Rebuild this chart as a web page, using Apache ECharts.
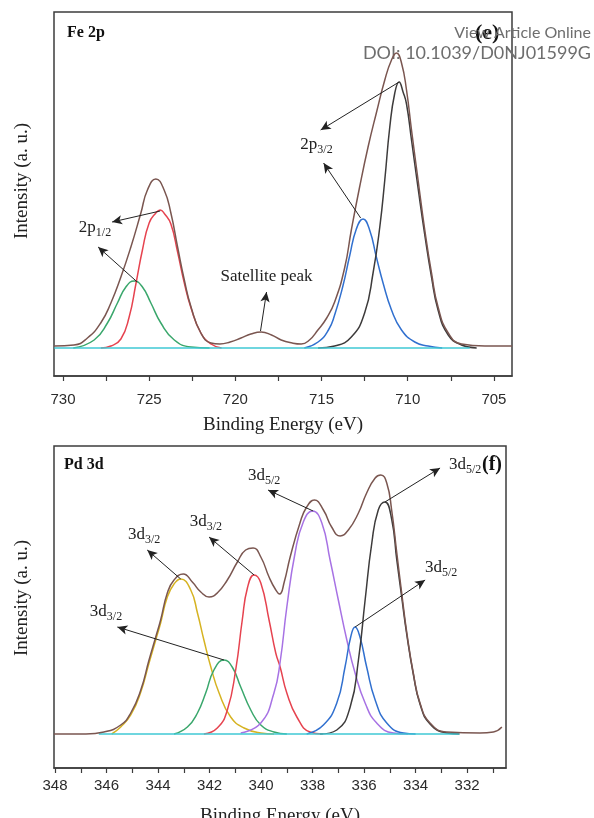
<!DOCTYPE html>
<html>
<head>
<meta charset="utf-8">
<script src="https://cdn.jsdelivr.net/npm/echarts@6/dist/echarts.min.js"></script>
<style>
  html, body { margin: 0; padding: 0; background: #fff; }
  #chart { width: 594px; height: 818px; }
</style>
</head>
<body>
<div id="chart"></div>
<script>
// Fe 2p panel: [binding energy (eV), intensity (a.u.)]
const feEnvelope = [[730.5, 2], [729.36, 3], [728.58, 10], [727.81, 25], [727.22, 45], [726.64, 71], [726.06, 101], [725.48, 135], [725.1, 158], [724.61, 169], [724.13, 158], [723.74, 135], [723.35, 101], [722.96, 68], [722.57, 41], [722.0, 15], [721.41, 5], [720.9, 4], [720.3, 6], [719.67, 10], [719.1, 14], [718.5, 16], [717.9, 13], [717.34, 8], [716.7, 5], [716.18, 4], [715.7, 8], [715.21, 18], [714.7, 30], [714.24, 46], [713.66, 80], [713.27, 118], [712.79, 161], [712.3, 201], [711.82, 235], [711.33, 268], [710.94, 288], [710.65, 295], [710.36, 285], [710.07, 258], [709.78, 218], [709.4, 168], [709.01, 118], [708.62, 75], [708.24, 41], [707.65, 15], [706.88, 4], [705.52, 2], [703.95, 2]]
const feGreen = [[729.4, 0], [728.19, 8], [727.42, 25], [726.84, 45], [726.35, 61], [725.87, 67], [725.39, 61], [724.9, 45], [724.32, 25], [723.54, 8], [722.57, 1], [721.5, 0]]
const feRed = [[727.8, 0], [727.22, 2], [726.64, 9], [726.16, 31], [725.77, 64], [725.39, 98], [725.0, 125], [724.61, 135], [724.36, 138], [724.1, 134], [723.74, 124], [723.35, 96], [722.96, 65], [722.57, 40], [722.0, 15], [721.41, 4], [720.8, 0]]
const feBlue = [[716.0, 0], [715.2, 6], [714.6, 18], [714.24, 33], [713.76, 62], [713.37, 92], [712.98, 119], [712.59, 129], [712.21, 118], [711.82, 91], [711.43, 65], [710.94, 38], [710.36, 18], [709.59, 6], [708.82, 2], [708.0, 0]]
const feBlack = [[715.2, 0], [714.24, 2], [713.27, 11], [712.5, 35], [712.01, 75], [711.62, 121], [711.33, 168], [711.04, 221], [710.75, 255], [710.5, 266], [710.27, 256], [710.07, 244], [709.78, 208], [709.4, 160], [709.01, 113], [708.62, 71], [708.24, 38], [707.65, 13], [706.88, 3], [706.0, 0]]
const feBaseline = [[730.5, 0], [706.4, 0]]
const feTicks = [705, 707.5, 710, 712.5, 715, 717.5, 720, 722.5, 725, 727.5, 730]
const feTickLabels = [705, 710, 715, 720, 725, 730]

// Pd 3d panel
const pdEnvelope = [[348.04, 0], [346.8, 0], [346.1, 2], [345.45, 9], [345.06, 21], [344.67, 44], [344.35, 74], [344.09, 97], [343.9, 114], [343.64, 141], [343.38, 154], [343.02, 160], [342.67, 152], [342.34, 142], [342.02, 137], [341.7, 141], [341.31, 154], [340.92, 172], [340.6, 184], [340.31, 186], [340.01, 177], [339.69, 157], [339.45, 145], [339.28, 140], [339.1, 152], [338.87, 177], [338.49, 211], [338.23, 227], [337.93, 234], [337.58, 224], [337.26, 207], [336.93, 198], [336.61, 204], [336.22, 221], [335.9, 241], [335.57, 256], [335.35, 259], [335.12, 251], [334.93, 224], [334.73, 181], [334.54, 141], [334.34, 101], [334.09, 61], [333.83, 31], [333.44, 11], [332.79, 2], [331.5, 1], [330.98, 2], [330.65, 7]]
const pdYellow = [[345.8, 0], [345.45, 7], [345.06, 19], [344.67, 42], [344.35, 71], [344.09, 94], [343.9, 111], [343.64, 137], [343.38, 150], [343.12, 155], [342.73, 144], [342.47, 121], [342.22, 94], [341.95, 67], [341.63, 41], [341.18, 17], [340.66, 6], [340.01, 1], [339.5, 0]]
const pdGreen = [[343.38, 0], [342.86, 7], [342.47, 21], [342.15, 41], [341.83, 64], [341.44, 74], [341.12, 67], [340.79, 47], [340.4, 24], [340.01, 9], [339.5, 2], [339.0, 0]]
const pdRed = [[342.22, 0], [341.7, 6], [341.31, 24], [340.98, 65], [340.73, 114], [340.53, 146], [340.27, 159], [340.01, 151], [339.69, 114], [339.43, 81], [339.26, 67], [339.0, 41], [338.61, 17], [338.1, 2], [337.6, 0]]
const pdPurple = [[340.79, 1], [340.01, 11], [339.5, 41], [339.26, 72], [339.0, 127], [338.68, 181], [338.36, 212], [338.0, 223], [337.64, 211], [337.32, 174], [337.0, 134], [336.67, 94], [336.35, 61], [335.96, 31], [335.51, 11], [334.86, 1], [334.3, 0]]
const pdBlue = [[338.23, 0], [337.58, 9], [337.06, 31], [336.74, 67], [336.52, 97], [336.35, 107], [336.16, 97], [335.9, 67], [335.57, 34], [335.12, 11], [334.47, 1], [334.0, 0]]
const pdDark = [[337.71, 0], [337.06, 4], [336.54, 27], [336.22, 74], [335.96, 134], [335.7, 191], [335.45, 224], [335.19, 232], [334.93, 215], [334.73, 174], [334.54, 137], [334.34, 99], [334.09, 60], [333.83, 30], [333.44, 10], [332.79, 1], [332.3, 0]]
const pdBaseline = [[346.3, 0], [332.3, 0]]
const pdTicks = [331, 332, 333, 334, 335, 336, 337, 338, 339, 340, 341, 342, 343, 344, 345, 346, 347, 348]
const pdTickLabels = [332, 334, 336, 338, 340, 342, 344, 346, 348]

// annotations: arrows [from, to] and labels [energy, intensity]
const feArrows = [
  [[710.5, 266], [715.05, 218]],
  [[712.73, 130], [714.88, 185]],
  [[724.36, 137], [727.15, 126]],
  [[725.69, 66], [727.96, 101]],
  [[718.54, 17], [718.19, 56]]
]
const feLabels = [
  ['{m|2p}{s|3/2}', [715.29, 203]],
  ['{m|2p}{s|1/2}', [728.14, 120]],
  ['{m|Satellite peak}', [718.19, 71]]
]
const pdArrows = [
  [[337.98, 223], [339.73, 244]],
  [[340.27, 159], [342.02, 197]],
  [[343.12, 155], [344.42, 184]],
  [[341.44, 74], [345.58, 107]],
  [[335.19, 232], [333.05, 266]],
  [[336.35, 107], [333.63, 154]]
]
const pdLabels = [
  ['{m|3d}{s|5/2}', [339.88, 258]],
  ['{m|3d}{s|3/2}', [342.14, 212]],
  ['{m|3d}{s|3/2}', [344.54, 199]],
  ['{m|3d}{s|3/2}', [346.02, 122]],
  ['{m|3d}{s|5/2}', [332.08, 269]],
  ['{m|3d}{s|5/2}', [333.01, 166]]
]

const serif = "'Liberation Serif', 'Times New Roman', serif"
const sans = "'Liberation Sans', Arial, sans-serif"
const ink = '#222'

const colors = {
  envelope: '#7a5650',
  dark: '#3d3b3b',
  red: '#e6434f',
  green: '#3aa76c',
  blue: '#3170cf',
  cyan: '#3fc8d5',
  yellow: '#d6b322',
  purple: '#a772e4'
}

function curve(data, color, idx) {
  return {
    type: 'line',
    xAxisIndex: idx,
    yAxisIndex: idx,
    data: data,
    smooth: 0.5,
    showSymbol: false,
    symbol: 'none',
    silent: true,
    lineStyle: { color: color, width: 1.5 }
  }
}

function notes(arrows, labels, idx) {
  return {
    type: 'line',
    xAxisIndex: idx,
    yAxisIndex: idx,
    data: [],
    silent: true,
    markLine: {
      silent: true,
      symbol: ['none', 'arrow'],
      symbolSize: [7, 10],
      label: { show: false },
      lineStyle: { color: ink, width: 1, type: 'solid' },
      data: arrows.map(a => [{ coord: a[0] }, { coord: a[1] }])
    },
    markPoint: {
      silent: true,
      symbol: 'circle',
      symbolSize: 1,
      itemStyle: { color: 'rgba(0,0,0,0)' },
      label: {
        show: true,
        position: 'inside',
        rich: {
          m: { fontFamily: serif, fontSize: 17, color: ink },
          s: { fontFamily: serif, fontSize: 12, color: ink, padding: [9, 0, 0, 0] }
        }
      },
      data: labels.map(l => ({ coord: l[1], label: { formatter: l[0] } }))
    }
  }
}

function xAxis(idx, min, max, ticks, labels, margin, gap) {
  return {
    gridIndex: idx,
    type: 'value',
    inverse: true,
    min: min,
    max: max,
    axisLine: { show: true, onZero: false, lineStyle: { color: '#3c3c3c', width: 1.5 } },
    axisTick: { show: true, inside: false, length: 5, customValues: ticks, lineStyle: { color: '#3c3c3c', width: 1.2 } },
    axisLabel: { customValues: labels, margin: margin, fontFamily: sans, fontSize: 15, color: '#2b2b2b' },
    splitLine: { show: false },
    name: 'Binding Energy (eV)',
    nameLocation: 'middle',
    nameGap: gap,
    nameTextStyle: { fontFamily: serif, fontSize: 19, color: ink }
  }
}

function yAxis(idx, min, max, shift) {
  return {
    gridIndex: idx,
    type: 'value',
    min: min,
    max: max,
    axisLine: { show: false },
    axisTick: { show: false },
    axisLabel: { show: false },
    splitLine: { show: false },
    name: 'Intensity (a. u.)',
    nameLocation: 'middle',
    nameGap: 22,
    nameTextStyle: { fontFamily: serif, fontSize: 19, color: ink, padding: [0, 0, 0, shift] }
  }
}

const chart = echarts.init(document.getElementById('chart'), null, { renderer: 'canvas' })

chart.setOption({
  animation: false,
  backgroundColor: '#fff',
  grid: [
    { left: 54, top: 12, width: 458, height: 364, show: true, borderColor: '#3c3c3c', borderWidth: 1.5, outerBoundsMode: 'none' },
    { left: 54, top: 446, width: 452, height: 322, show: true, borderColor: '#3c3c3c', borderWidth: 1.5, outerBoundsMode: 'none' }
  ],
  xAxis: [
    xAxis(0, 703.95, 730.52, feTicks, feTickLabels, 16, 40),
    xAxis(1, 330.49, 348.04, pdTicks, pdTickLabels, 10, 39)
  ],
  yAxis: [yAxis(0, -28, 336, 26), yAxis(1, -34, 288, 18)],
  graphic: [
    { type: 'text', left: 67, top: 25, style: { text: 'Fe 2p', font: 'bold 16px ' + serif, fill: '#111' } },
    { type: 'text', left: 64, top: 457, style: { text: 'Pd 3d', font: 'bold 16px ' + serif, fill: '#111' } },
    { type: 'text', left: 475, top: 22, style: { text: '(e)', font: 'bold 22px ' + serif, fill: '#111' } },
    { type: 'text', left: 482, top: 455, style: { text: '(f)', font: 'bold 20px ' + serif, fill: '#111' } },
    { type: 'text', right: 3, top: 25, style: { text: 'View Article Online', font: '16px Lato, sans-serif', fill: '#6e6e6e' } },
    { type: 'text', right: 3, top: 44, style: { text: 'DOI: 10.1039/D0NJ01599G', font: '18px Lato, sans-serif', fill: '#6e6e6e' } }
  ],
  series: [
    curve(feGreen, colors.green, 0),
    curve(feRed, colors.red, 0),
    curve(feBlue, colors.blue, 0),
    curve(feBlack, colors.dark, 0),
    curve(feBaseline, colors.cyan, 0),
    curve(feEnvelope, colors.envelope, 0),
    notes(feArrows, feLabels, 0),
    curve(pdYellow, colors.yellow, 1),
    curve(pdGreen, colors.green, 1),
    curve(pdRed, colors.red, 1),
    curve(pdPurple, colors.purple, 1),
    curve(pdBlue, colors.blue, 1),
    curve(pdDark, colors.dark, 1),
    curve(pdBaseline, colors.cyan, 1),
    curve(pdEnvelope, colors.envelope, 1),
    notes(pdArrows, pdLabels, 1)
  ]
})
</script>
</body>
</html>
